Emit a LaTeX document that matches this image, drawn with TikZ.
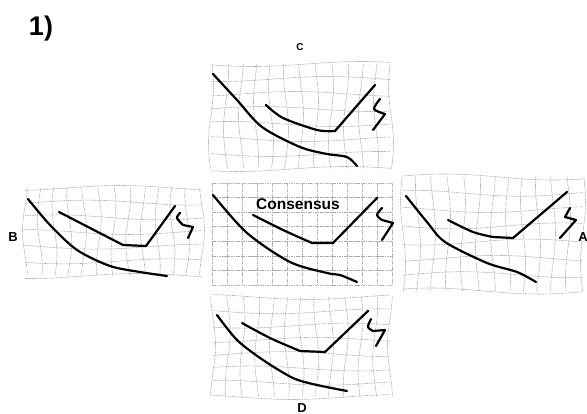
\documentclass[tikz,border=0pt]{standalone}
\usepackage{fontspec}
\setmainfont{Liberation Sans}
\usetikzlibrary{positioning}

% one panel grid, warped by small sine waves
\newcommand{\warpgrid}[9]{%
  \foreach \i in {0,...,#5}{
    \draw[gridline] plot[domain=0:1, samples=14, smooth, variable=\t]
      ({#1+#3*\i/#5+#7*sin(330*\t+#9+45*\i)}, {#2+#4*\t});
  }
  \foreach \j in {0,...,#6}{
    \draw[gridline] plot[domain=0:1, samples=18, smooth, variable=\t]
      ({#1+#3*\t}, {#2+#4*\j/#6+#8*sin(300*\t+#9+55*\j)});
  }
}

\begin{document}
\begin{tikzpicture}[x=1pt, y=-1pt,
    gridline/.style={draw=gray!65, line width=0.6pt, dash pattern=on 1.6pt off 0.8pt},
    stroke/.style={draw=black, line width=2.2pt, line cap=round, line join=round},
    lbl/.style={font=\fontsize{13}{15}\selectfont\bfseries, inner sep=0pt}]
  \useasboundingbox (0,0) rectangle (587,414);

  \node[font=\fontsize{27}{30}\selectfont\bfseries, inner sep=0pt] (num) at (41,29) {1)};

  % grids
  \warpgrid{211}{64}{180}{105}{12}{7}{2.5}{2.5}{20}
  \warpgrid{212}{183}{180}{102}{12}{7}{0}{0}{0}
  \warpgrid{25}{188}{177}{88}{12}{6}{2.5}{2.5}{110}
  \warpgrid{403}{177}{180}{114}{12}{7}{2.5}{3}{200}
  \warpgrid{213}{297}{177}{100}{12}{7}{2.5}{2.5}{290}

  % C
  \draw[stroke] plot[smooth] coordinates {(213,74) (237,100) (262,127) (300,147) (327,154) (347,157) (357,166)};
  \draw[stroke] plot[smooth] coordinates {(266,105) (283,118) (317,130) (335,131)} -- (375,85);
  \draw[stroke] plot[smooth] coordinates {(380,99) (374,109) (385,114)} -- (373,130);

  % consensus
  \draw[stroke] plot[smooth] coordinates {(213,195) (247,233) (290,262) (327,273) (340,275) (357,282)};
  \draw[stroke] plot[smooth] coordinates {(253,215) (283,230) (312,243)} -- (333,243) -- (377,198);
  \draw[stroke] plot[smooth] coordinates {(382,208) (377,215) (382,220)} -- (393,223) -- (382,240);

  % B
  \draw[stroke] plot[smooth] coordinates {(28,199) (50,225) (77,250) (110,266) (140,272) (167,276)};
  \draw[stroke] plot[smooth] coordinates {(59,212) (90,228) (123,245)} -- (146,246) -- (175,206);
  \draw[stroke] plot[smooth] coordinates {(180,213) (177,218) (183,225)} -- (193,227) -- (188,238);

  % A
  \draw[stroke] plot[smooth] coordinates {(406,196) (427,222) (445,242) (487,263) (517,272) (536,282)};
  \draw[stroke] plot[smooth] coordinates {(448,220) (473,232) (493,237)} -- (513,238) -- (567,192);
  \draw[stroke] plot[smooth] coordinates {(570,208) (565,217)} -- (576,220) -- (560,238);

  % D
  \draw[stroke] plot[smooth] coordinates {(217,315) (237,340) (263,360) (293,378) (317,385) (347,391)};
  \draw[stroke] plot[smooth] coordinates {(242,323) (270,338) (300,351)} -- (325,352) -- (368,311);
  \draw[stroke] plot[smooth] coordinates {(371,319) (368,327) (373,331)} -- (385,330) -- (376,346);

  % labels
  \node[lbl, font=\fontsize{15.5}{18}\selectfont\bfseries] (cons) at (298,204) {Consensus};
  \node[lbl, font=\fontsize{10}{12}\selectfont\bfseries] (c) at (300,47) {C};
  \node[lbl] (b) at (13,237) {B};
  \node[lbl] (a) at (583,237) {A};
  \node[lbl] (d) at (302,408) {D};
\end{tikzpicture}
\end{document}
